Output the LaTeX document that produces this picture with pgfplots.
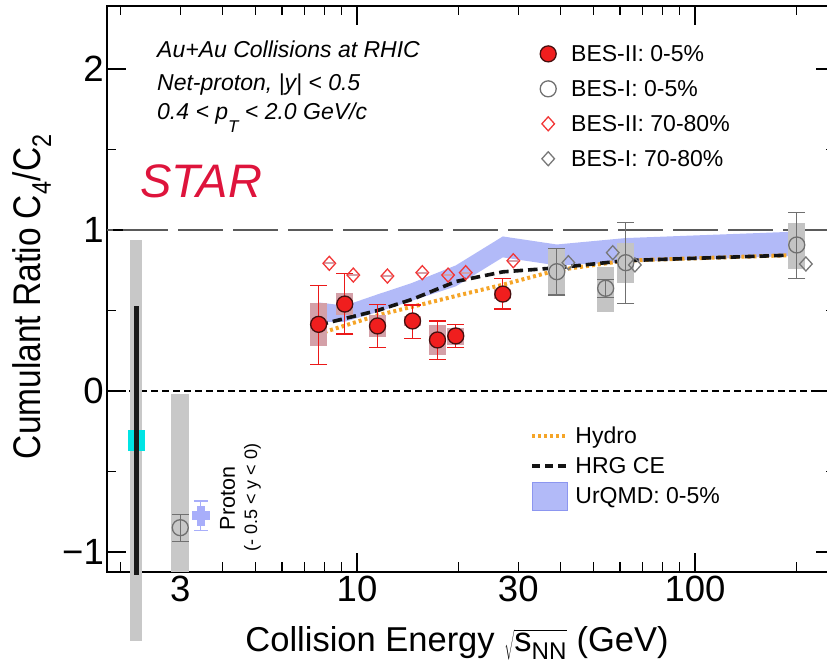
\documentclass[border=0pt]{standalone}
\usepackage{pgfplots}
\pgfplotsset{compat=1.18}
\usepackage{fontspec}
\setmainfont{Liberation Sans}
\newfontfamily\ylabfont{Liberation Sans}[FakeStretch=0.87]
\definecolor{redfill}{RGB}{240,30,30}
\definecolor{reddark}{RGB}{70,15,15}
\definecolor{redbar}{RGB}{235,25,25}
\definecolor{reddia}{RGB}{242,55,55}
\definecolor{redsys}{RGB}{212,160,168}
\definecolor{graymk}{RGB}{112,112,112}
\definecolor{graydia}{RGB}{120,120,120}
\definecolor{graysys}{RGB}{196,196,196}
\definecolor{grayband}{RGB}{200,200,200}
\definecolor{cyanbox}{RGB}{0,228,228}
\definecolor{urqmd}{RGB}{178,186,248}
\definecolor{urqmdedge}{RGB}{140,150,240}
\definecolor{protonblue}{RGB}{168,174,250}
\definecolor{hydro}{RGB}{245,165,40}
\definecolor{starred}{RGB}{222,20,60}
\definecolor{lgray}{RGB}{90,90,90}
\pgfplotsset{
  markimg/.style={legend image code/.code={\path[draw=none,fill=none] (-12pt,-8pt) rectangle (12pt,8pt); \draw[##1] plot coordinates {(0pt,0pt)};}},
  lineimg/.style={legend image code/.code={\path[draw=none,fill=none] (0pt,-8pt) rectangle (35pt,8pt); \draw[##1] (0pt,0pt) -- (35pt,0pt);}},
  boximg/.style={legend image code/.code={\path[draw=none,fill=none] (0pt,-8pt) rectangle (35pt,8pt); \draw[##1, overlay] (0pt,-14pt) rectangle (35pt,14pt);}},
  sysbox/.style 2 args={forget plot, draw=none, mark=none, error bars/.cd, y dir=both, y explicit, error mark=none,
    error bar style={draw=#1, line width=#2}},
  statbar/.style 2 args={forget plot, draw=none, mark=none, error bars/.cd, y dir=both, y explicit,
    error bar style={color=#1, draw=#1, line width=1.1pt},
    error mark options={rotate=90, color=#1, draw=#1, line width=1.1pt, mark size=#2}},
}

\begin{document}
\begin{tikzpicture}
\useasboundingbox (-107pt,-99pt) rectangle (720pt,572pt);
\begin{axis}[
  at={(0pt,0pt)}, anchor=south west,
  scale only axis, width=728pt, height=566pt,
  xmode=log, xmin=1.8214, xmax=259.5, ymin=-1.1242, ymax=2.3913,
  clip=false,
  axis line style={line width=1.3pt},
  every tick/.style={black, line width=1.2pt},
  major tick length=19pt, minor tick length=9.5pt,
  xtick={10,100}, xticklabels={10,100},
  minor xtick={2,3,4,5,6,7,8,9,20,30,40,50,60,70,80,90,200},
  extra x ticks={3,30}, extra x tick labels={3,30},
  extra x tick style={tick style={draw=none}},
  ytick={-1,0,1,2}, yticklabels={−1,0,1,2},
  minor ytick={-0.5,0.5,1.5},
  tick label style={font=\fontsize{36.5}{40}\selectfont},
  yticklabel style={inner xsep=3pt},
  xlabel={Collision Energy $\sqrt{\mathrm{s}_{\mathrm{NN}}}$ (GeV)},
  xlabel style={font=\fontsize{34.5}{38}\selectfont, anchor=base, at={(axis description cs:0.4808,-0.1396)}},
  ylabel={Cumulant Ratio C\textsubscript{4}/C\textsubscript{2}},
  ylabel style={font=\ylabfont\fontsize{38.5}{42}\selectfont, anchor=north, inner sep=0pt, at={(axis description cs:-0.1295,0.4864)}},
  legend style={draw=none, fill=none, inner sep=0pt, row sep=13.4pt, column sep=9pt, font=\fontsize{23}{27}\selectfont, at={(axis description cs:0.5893,0.9348)}, anchor=north west},
  legend cell align=left,
]
% reference lines
\addplot[forget plot, lgray, line width=1.6pt, dash pattern=on 45pt off 10pt, dash phase=39pt] coordinates {(1.8214,1) (259.5,1)};
\addplot[forget plot, black, line width=1.1pt, dash pattern=on 7pt off 4pt] coordinates {(1.8214,0) (259.5,0)};

% left reference band (gray, cyan, black)
\addplot[sysbox={grayband}{12pt}] coordinates {(2.219,-0.3075) +- (0,1.2455)};
\addplot[sysbox={cyanbox}{17pt}] coordinates {(2.219,-0.307) +- (0,0.065)};
\addplot[sysbox={black!90}{5pt}] coordinates {(2.219,-0.3075) +- (0,0.8355)};
% 3 GeV systematic band
\addplot[sysbox={grayband}{18pt}] coordinates {(3.0,-0.5716) +- (0,0.5526)};

% UrQMD band
\addplot[forget plot, fill=urqmd, draw=none] coordinates {(7.7,0.55) (9.2,0.53) (11.5,0.60) (14.5,0.67) (19.6,0.78) (27,0.96) (39,0.91) (62.4,0.95) (200,0.99) (200,0.84) (62.4,0.80) (39,0.78) (27,0.83) (19.6,0.65) (14.5,0.56) (11.5,0.49) (9.2,0.43) (7.7,0.43)} -- cycle;

% Hydro and HRG CE
\addplot[forget plot, hydro, line width=4pt, dash pattern=on 3pt off 3pt] coordinates {(7.7,0.355) (11.5,0.47) (19.6,0.59) (27,0.66) (39,0.75) (62.4,0.81) (200,0.845)};
\addplot[forget plot, black!92, line width=3.6pt, dash pattern=on 9.5pt off 5pt] coordinates {(7.7,0.41) (11.5,0.50) (14.6,0.57) (19.6,0.68) (27,0.74) (39,0.765) (62.4,0.81) (200,0.845)};

% systematic boxes BES-II 0-5%
\addplot[sysbox={redsys}{17pt}] coordinates {
(7.7,0.4125) +- (0,0.1325)
(9.2,0.5415) +- (0,0.0695)
(11.5,0.4045) +- (0,0.0675)
(14.6,0.435) +- (0,0.03)
(17.3,0.317) +- (0,0.093)
(19.6,0.3395) +- (0,0.0535)
(27,0.602) +- (0,0.03)
};
% systematic boxes BES-I 0-5%
\addplot[sysbox={graysys}{17pt}] coordinates {
(39,0.741) +- (0,0.145)
(54.4,0.6305) +- (0,0.1375)
(62.4,0.795) +- (0,0.122)
(200,0.9) +- (0,0.142)
};
% thin systematic lines in BES-II 70-80% diamonds
\addplot[sysbox={redsys}{10pt}] coordinates {
(8.28,0.793) +- (0,0.006) (9.75,0.72) +- (0,0.006) (12.3,0.714) +- (0,0.006) (15.6,0.735) +- (0,0.006)
(18.6,0.72) +- (0,0.006) (20.97,0.735) +- (0,0.006) (29.0,0.809) +- (0,0.006)
};

% Proton (-0.5<y<0) cross
\addplot[statbar={protonblue}{7pt}] coordinates {(3.45,-0.776) +- (0,0.093)};
\addplot[sysbox={protonblue}{8pt}] coordinates {(3.45,-0.776) +- (0,0.062)};
\addplot[sysbox={protonblue}{18pt}] coordinates {(3.45,-0.776) +- (0,0.028)};

% BES-II 70-80%
\addplot[forget plot, only marks, mark=diamond, mark size=7pt, mark options={draw=reddia, line width=1.3pt, xscale=1.2}] coordinates {
(8.28,0.793) (9.75,0.72) (12.3,0.714) (15.6,0.735) (18.6,0.72) (20.97,0.735) (29.0,0.809)};
% BES-I 70-80%
\addplot[forget plot, only marks, mark=diamond, mark size=7pt, mark options={draw=graydia, line width=1.3pt, xscale=1.2}] coordinates {
(42.2,0.797) (57.1,0.859) (66.4,0.783) (212.8,0.789)};

% BES-I 0-5%: statistical errors, then markers
\addplot[statbar={graymk}{8.5pt}] coordinates {
(3.0,-0.849) +- (0,0.084)
(39,0.741) +- (0,0.145)
(54.4,0.638) +- (0,0.056)
(62.4,0.797) += (0,0.248) -= (0,0.252)
(200,0.907) += (0,0.203) -= (0,0.211)
};
\addplot[forget plot, only marks, mark=o, mark size=8pt, mark options={draw=graymk, line width=1.3pt}] coordinates {
(3.0,-0.849) (39,0.741) (54.4,0.638) (62.4,0.797) (200,0.907)};

% BES-II 0-5%: statistical errors, then markers
\addplot[statbar={redbar}{8.5pt}] coordinates {
(7.7,0.414) += (0,0.244) -= (0,0.248)
(9.2,0.540) += (0,0.187) -= (0,0.186)
(11.5,0.404) +- (0,0.135)
(14.6,0.435) += (0,0.099) -= (0,0.108)
(17.3,0.317) += (0,0.118) -= (0,0.120)
(19.6,0.342) += (0,0.072) -= (0,0.073)
(27,0.602) += (0,0.094) -= (0,0.093)
};
\addplot[forget plot, only marks, mark=*, mark size=8pt, mark options={fill=redfill, draw=reddark, line width=1.3pt}] coordinates {
(7.7,0.414) (9.2,0.540) (11.5,0.404) (14.6,0.435) (17.3,0.317) (19.6,0.342) (27,0.602)};

\addlegendimage{markimg, only marks, mark=*, mark size=8pt, mark options={fill=redfill, draw=reddark, line width=1.3pt}}
\addlegendentry{BES-II: 0-5\%}
\addlegendimage{markimg, only marks, mark=o, mark size=8pt, mark options={draw=graymk, line width=1.3pt}}
\addlegendentry{BES-I: 0-5\%}
\addlegendimage{markimg, only marks, mark=diamond, mark size=7pt, mark options={draw=reddia, line width=1.3pt, xscale=1.2}}
\addlegendentry{BES-II: 70-80\%}
\addlegendimage{markimg, only marks, mark=diamond, mark size=7pt, mark options={draw=graydia, line width=1.3pt, xscale=1.2}}
\addlegendentry{BES-I: 70-80\%}
\end{axis}

\begin{axis}[
  at={(0pt,0pt)}, anchor=south west,
  scale only axis, width=728pt, height=566pt,
  hide axis, xmin=0, xmax=1, ymin=0, ymax=1,
  legend style={draw=none, fill=none, inner sep=0pt, row sep=8.25pt, column sep=4.3pt, font=\fontsize{23}{27}\selectfont, at={(axis description cs:0.5810,0.2599)}, anchor=north west},
  legend cell align=left,
]
\addlegendimage{lineimg, hydro, line width=4pt, dash pattern=on 3pt off 3pt}
\addlegendentry{Hydro}
\addlegendimage{lineimg, black!92, line width=3.6pt, dash pattern=on 8pt off 5pt}
\addlegendentry{HRG CE}
\addlegendimage{boximg, fill=urqmd, draw=urqmdedge, line width=0.8pt}
\addlegendentry{UrQMD: 0-5\%}
\end{axis}

\node[anchor=base west, inner sep=0pt, font=\fontsize{23}{27}\selectfont\itshape] at (50pt,514pt) {Au+Au Collisions at RHIC};
\node[anchor=base west, inner sep=0pt, font=\fontsize{23}{27}\selectfont\itshape] at (50pt,481pt) {Net-proton, |y| < 0.5};
\node[anchor=base west, inner sep=0pt, font=\fontsize{23}{27}\selectfont\itshape] at (50pt,452pt) {0.4 < p\raisebox{-13pt}{\fontsize{17}{17}\selectfont T} < 2.0 GeV/c};
\node[anchor=base west, inner sep=0pt, font=\fontsize{47}{50}\selectfont\itshape, text=starred] at (33pt,374pt) {STAR};
\node[rotate=90, inner sep=0pt, font=\fontsize{21.5}{24}\selectfont] at (120.5pt,73.5pt) {Proton};
\node[rotate=90, inner sep=0pt, font=\fontsize{18}{20}\selectfont] at (145.5pt,74.5pt) {(- 0.5 < y < 0)};
\end{tikzpicture}
\end{document}
